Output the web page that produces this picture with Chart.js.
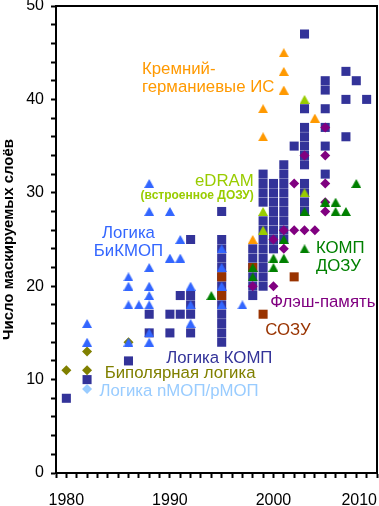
<!DOCTYPE html>
<html>
<head>
<meta charset="utf-8">
<script src="https://cdn.jsdelivr.net/npm/chart.js@4.4.1/dist/chart.umd.min.js"></script>
<style>
  html, body { margin: 0; padding: 0; background: #fff; }
  #wrap { width: 379px; height: 506px; }
</style>
</head>
<body>
<div id="wrap"><canvas id="chart"></canvas></div>
<script>
// each point: [year, number of mask layers]
const logicCmos = [
  [1980, 8], [1982, 10], [1986, 12], [1988, 17], [1988, 15], [1990, 17], [1990, 15],
  [1991, 19], [1991, 17], [1992, 25], [1992, 19], [1992, 18], [1992, 17], [1992, 15],
  [1995, 28], [1995, 25], [1995, 24], [1995, 23], [1995, 22], [1995, 21], [1995, 20],
  [1995, 19], [1995, 18], [1995, 17], [1995, 16], [1995, 15], [1995, 14],
  [1998, 24], [1998, 23], [1998, 22], [1998, 21], [1998, 20], [1998, 19],
  [1999, 32], [1999, 31], [1999, 30], [1999, 29], [1999, 27], [1999, 26], [1999, 25],
  [1999, 24], [1999, 23], [1999, 22], [1999, 21], [1999, 20],
  [2000, 31], [2000, 30], [2000, 29], [2000, 28], [2000, 27], [2000, 26], [2000, 25], [2000, 24],
  [2001, 33], [2001, 32], [2001, 31], [2001, 30], [2001, 29], [2001, 28], [2001, 27], [2001, 26], [2001, 25],
  [2002, 35],
  [2003, 47], [2003, 39], [2003, 37], [2003, 36], [2003, 35], [2003, 34], [2003, 33],
  [2003, 31], [2003, 30], [2003, 29], [2003, 28],
  [2005, 42], [2005, 41], [2005, 39], [2005, 37], [2005, 35], [2005, 32],
  [2007, 43], [2007, 40], [2007, 36], [2008, 42], [2009, 40]
];
const logicBicmos = [
  [1982, 16], [1982, 14], [1986, 21], [1986, 20], [1986, 18], [1986, 14], [1987, 18],
  [1988, 31], [1988, 28], [1988, 22], [1988, 20], [1988, 19], [1988, 18], [1988, 15], [1988, 14],
  [1990, 28], [1990, 23], [1991, 25], [1991, 23], [1992, 20], [1992, 18], [1992, 16],
  [1995, 24], [1995, 22], [1995, 20], [1995, 18], [1997, 18]
];
const siliconGermanium = [[1998, 25], [1999, 39], [1999, 36], [2001, 45], [2001, 43], [2001, 41], [2004, 38]];
const embeddedDram = [[1999, 28], [1999, 26], [2003, 40], [2003, 30]];
const cmosDram = [
  [1994, 19], [1998, 22], [1998, 21], [2000, 23], [2000, 22], [2001, 25], [2001, 23],
  [2003, 28], [2003, 24], [2005, 29], [2006, 29], [2006, 28], [2007, 28], [2008, 31]
];
const flashMemory = [
  [1998, 20], [2000, 25], [2000, 20], [2001, 26], [2001, 24], [2002, 31], [2002, 26],
  [2003, 34], [2003, 26], [2004, 26], [2005, 37], [2005, 34], [2005, 31], [2005, 29], [2005, 28]
];
const sram = [[1995, 21], [1995, 19], [1998, 22], [1999, 17], [2002, 21]];
const bipolarLogic = [[1980, 11], [1982, 13], [1982, 11], [1986, 14]];
const nmosPmosLogic = [[1982, 9]];

const yearRange = [1979, 2010];
const layerRange = [0, 50];

const toPoints = arr => arr.map(([x, y]) => ({ x, y }));

// text labels placed in data units
const seriesLabels = [
  { lines: ['Кремний-', 'германиевые ИС'], x: 1987.3, y: 43.2, color: '#ff9900', align: 'left' },
  { lines: ['eDRAM'], x: 1998.1, y: 31.2, color: '#99cc00', align: 'right' },
  { lines: ['(встроенное ДОЗУ)'], x: 1998.1, y: 29.7, color: '#99cc00', align: 'right', font: 'bold 12px "Liberation Sans"' },
  { lines: ['Логика', 'БиКМОП'], x: 1986.0, y: 25.7, color: '#3366ff', align: 'center' },
  { lines: ['КОМП', 'ДОЗУ'], x: 2004.1, y: 24.0, color: '#008000', align: 'left' },
  { lines: ['Флэш-память'], x: 1999.7, y: 18.3, color: '#800080', align: 'left' },
  { lines: ['СОЗУ'], x: 1999.2, y: 15.3, color: '#993300', align: 'left' },
  { lines: ['Логика КОМП'], x: 1999.9, y: 12.3, color: '#333399', align: 'right' },
  { lines: ['Биполярная логика'], x: 1983.7, y: 10.7, color: '#808000', align: 'left' },
  { lines: ['Логика nМОП/pМОП'], x: 1983.2, y: 8.7, color: '#99ccff', align: 'left' }
];

// triangle marker centred on its bounding box (built-in one sits on its circumcentre)
function triangleMarker(color) {
  const c = document.createElement('canvas');
  c.width = 10; c.height = 9;
  const g = c.getContext('2d');
  g.fillStyle = color;
  g.beginPath();
  g.moveTo(5, 0); g.lineTo(10, 9); g.lineTo(0, 9);
  g.closePath();
  g.fill();
  return c;
}

const labelPlugin = {
  id: 'labels',
  afterDraw(chart) {
    const { ctx, chartArea, scales } = chart;
    ctx.save();
    ctx.strokeStyle = '#000';
    ctx.lineWidth = 2;
    ctx.beginPath();
    ctx.moveTo(chartArea.left, chartArea.top);
    ctx.lineTo(chartArea.right, chartArea.top);
    ctx.lineTo(chartArea.right, chartArea.bottom);
    ctx.stroke();

    ctx.textBaseline = 'middle';
    seriesLabels.forEach(l => {
      ctx.font = l.font || '16.8px "Liberation Sans"';
      ctx.fillStyle = l.color;
      ctx.textAlign = l.align;
      const px = scales.x.getPixelForValue(l.x);
      const py = scales.y.getPixelForValue(l.y);
      l.lines.forEach((t, i) => ctx.fillText(t, px, py + i * 18));
    });
    ctx.restore();
  }
};

function makeSet(label, data, color, style, radius) {
  return {
    label,
    data: toPoints(data),
    pointStyle: style === 'triangle' ? triangleMarker(color) : style,
    pointRadius: radius,
    pointHoverRadius: radius,
    backgroundColor: color,
    borderColor: color,
    borderWidth: 0,
    showLine: false
  };
}

const tickFont = { family: 'Liberation Sans', size: 16 };

new Chart(document.getElementById('chart'), {
  type: 'scatter',
  data: {
    datasets: [
      makeSet('КМОП ДОЗУ', cmosDram, '#008000', 'triangle', 6),
      makeSet('eDRAM', embeddedDram, '#99cc00', 'triangle', 6),
      makeSet('Логика БиКМОП', logicBicmos, '#3366ff', 'triangle', 6),
      makeSet('Флэш-память', flashMemory, '#800080', 'rectRot', 5),
      makeSet('Кремний-германиевые ИС', siliconGermanium, '#ff9900', 'triangle', 6),
      makeSet('СОЗУ', sram, '#993300', 'rect', 6.4),
      makeSet('Биполярная логика', bipolarLogic, '#808000', 'rectRot', 5),
      makeSet('Логика nМОП/pМОП', nmosPmosLogic, '#99ccff', 'rectRot', 5),
      makeSet('Логика КОМП', logicCmos, '#333399', 'rect', 6.4)
    ]
  },
  options: {
    responsive: true,
    maintainAspectRatio: false,
    animation: false,
    layout: { autoPadding: false, padding: { top: 6, right: 2, left: 0, bottom: 0 } },
    plugins: { legend: { display: false }, tooltip: { enabled: false } },
    scales: {
      x: {
        type: 'linear',
        min: yearRange[0],
        max: yearRange[1],
        ticks: {
          stepSize: 1,
          autoSkip: false,
          maxRotation: 0,
          align: 'inner',
          padding: 13,
          color: '#000',
          font: tickFont,
          callback: v => (v % 10 === 0 ? String(v) : '')
        },
        grid: { drawOnChartArea: false, tickLength: 5, tickColor: '#000', tickWidth: 2 },
        border: { color: '#000', width: 2 },
        afterFit(s) { s.height = 33; s.paddingLeft = 0; s.paddingRight = 0; }
      },
      y: {
        min: layerRange[0],
        max: layerRange[1],
        ticks: {
          stepSize: 2,
          autoSkip: false,
          padding: 7,
          color: '#000',
          font: tickFont,
          callback: v => (v % 10 === 0 ? String(v) : '')
        },
        grid: { drawOnChartArea: false, tickLength: 5, tickColor: '#000', tickWidth: 2 },
        border: { color: '#000', width: 2 },
        title: {
          display: true,
          text: 'Число маскируемых слоёв',
          color: '#000',
          font: { family: 'Liberation Sans', size: 15, weight: 'bold' },
          padding: { top: 0, bottom: 0 }
        },
        afterFit(s) { s.width = 56; s.paddingTop = 0; s.paddingBottom = 0; }
      }
    }
  },
  plugins: [labelPlugin]
});
</script>
</body>
</html>
